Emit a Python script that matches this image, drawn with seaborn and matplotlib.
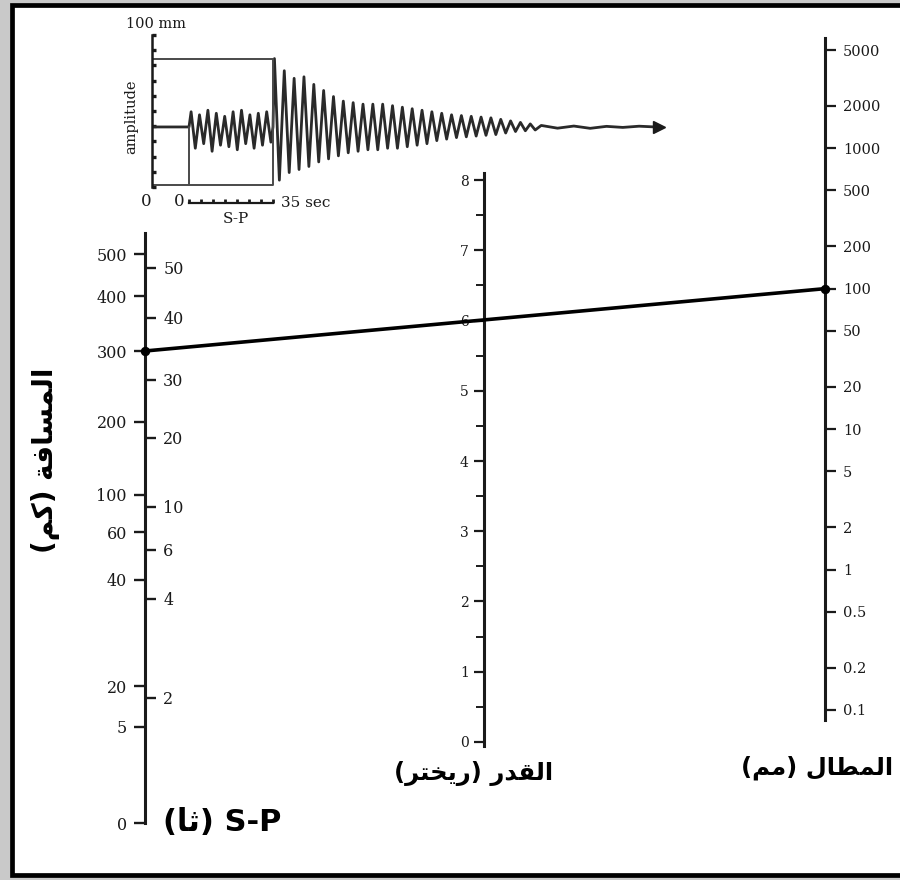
import numpy as np
import pandas as pd
import matplotlib
matplotlib.use("Agg")
import matplotlib.pyplot as plt
from matplotlib.patches import Rectangle
from matplotlib.ticker import FixedLocator, FixedFormatter, MultipleLocator, NullLocator
import seaborn as sns

# ---------------- data ----------------
# left nomogram scale: distance (km) and S-P time (s); positions = reading along the scale (0 bottom .. 1 top)
dist_labels = ["500", "400", "300", "200", "100", "60", "40", "20", "5", "0"]
dist_pos = [0.964, 0.893, 0.800, 0.680, 0.556, 0.493, 0.412, 0.232, 0.163, 0.0]
sp_labels = ["50", "40", "30", "20", "10", "6", "4", "2"]
sp_pos = [0.941, 0.856, 0.751, 0.653, 0.536, 0.463, 0.380, 0.212]
# middle scale: magnitude (Richter)
mag_ticks = [0, 1, 2, 3, 4, 5, 6, 7, 8]
# right scale: amplitude (mm), logarithmic
amp_ticks = [0.1, 0.2, 0.5, 1, 2, 5, 10, 20, 50, 100, 200, 500, 1000, 2000, 5000]
amp_labels = ["0.1", "0.2", "0.5", "1", "2", "5", "10", "20", "50", "100", "200", "500", "1000", "2000", "5000"]
# worked example line
example_distance = "300"
example_amplitude = 100

# seismogram inset (amplitude in mm, time in s)
baseline_mm = 39.5
sp_interval = 35
p_up = [10, 8, 11, 9, 7, 10, 11, 8, 9, 10]
p_down = [-14, -11, -16, -12, -13, -15, -11, -14, -12, -10]
s_up = [45, 37, 32, 33, 28, 24, 20, 17, 16, 15, 15, 15, 14, 13, 12, 11, 10, 9, 8, 7.5, 7, 6.5, 6, 5, 4, 3, 2]
s_down = [-35, -30, -28, -26, -23, -21, -19, -17, -16, -15, -15, -14, -14, -13, -12, -11, -9, -8, -7, -6.5,
          -6, -5.5, -5, -4, -3, -2.5, -2]
coda = [1.0, -0.8, 0.6, -0.9, 0.4, -0.3, 0.5, 0.0]

# ---------------- style ----------------
sns.set_theme(style="white")
plt.rcParams["font.family"] = ["DejaVu Sans"]
SERIF = "DejaVu Serif"
INK = "#1a1a1a"

W, H = 900, 880
fig = plt.figure(figsize=(9, 8.8), dpi=100)
fig.patch.set_facecolor("white")


def fx(px):
    return px / W


def fy(py):
    return 1 - py / H


# frame
fig.patches.append(Rectangle((0, 0), 1, 1, transform=fig.transFigure, facecolor="#c9c9c9",
                             edgecolor="none", zorder=-20))
fig.patches.append(Rectangle((fx(12), fy(875)), fx(930) - fx(12), fy(5) - fy(875), transform=fig.transFigure,
                             facecolor="white", edgecolor="black", lw=3.4, zorder=-19))


def scale_axes(rect):
    ax = fig.add_axes(rect)
    ax.set_facecolor("none")
    for s in ax.spines.values():
        s.set_visible(False)
    ax.set_xlim(0, 1)
    ax.xaxis.set_major_locator(NullLocator())
    ax.xaxis.set_minor_locator(NullLocator())
    return ax


def style_labels(ax, size):
    for t in ax.get_yticklabels():
        t.set_fontfamily(SERIF); t.set_fontsize(size); t.set_color(INK)


# ---- left scale: distance / S-P ----
axL = scale_axes([fx(145), fy(823), 0.0002, (823 - 233) / H])
axL.set_ylim(0, 1)
axL.spines["left"].set_visible(True)
axL.spines["left"].set_color(INK)
axL.spines["left"].set_linewidth(2.2)
axL.yaxis.set_major_locator(FixedLocator(dist_pos))
axL.yaxis.set_major_formatter(FixedFormatter(dist_labels))
axL.tick_params(axis="y", left=True, right=False, direction="out", length=8, width=1.7, color=INK, pad=5)
style_labels(axL, 11.5)

axS = axL.twinx()
axS.set_facecolor("none")
for s in axS.spines.values():
    s.set_visible(False)
axS.set_ylim(0, 1)
axS.yaxis.set_major_locator(FixedLocator(sp_pos))
axS.yaxis.set_major_formatter(FixedFormatter(sp_labels))
axS.tick_params(axis="y", left=False, right=True, labelright=True, direction="out", length=8, width=1.7,
                color=INK, pad=5)
style_labels(axS, 11.5)

# ---- middle scale: magnitude ----
axM = scale_axes([fx(484), fy(745.5), 0.0002, (745.5 - 173) / H])
axM.set_ylim(-0.05, 8.1)
axM.spines["left"].set_visible(True)
axM.spines["left"].set_color(INK)
axM.spines["left"].set_linewidth(2.2)
axM.yaxis.set_major_locator(FixedLocator(mag_ticks))
axM.yaxis.set_minor_locator(MultipleLocator(0.5))
axM.set_yticklabels([str(v) for v in mag_ticks])
axM.tick_params(axis="y", which="major", left=True, direction="out", length=7, width=1.6, color=INK, pad=4)
axM.tick_params(axis="y", which="minor", left=True, direction="out", length=5.5, width=1.4, color=INK)
style_labels(axM, 10)

# ---- right scale: amplitude (log) ----
axR = scale_axes([fx(825), fy(720), 0.0002, (720 - 38) / H])
axR.set_yscale("log")
axR.set_ylim(10 ** (-1 - 10 / 140), 10 ** (np.log10(5000) + 12 / 140))
axR.spines["left"].set_visible(True)
axR.spines["left"].set_color(INK)
axR.spines["left"].set_linewidth(2.2)
axR.yaxis.set_major_locator(FixedLocator(amp_ticks))
axR.yaxis.set_major_formatter(FixedFormatter(amp_labels))
axR.yaxis.set_minor_locator(NullLocator())
axR.tick_params(axis="y", left=False, right=True, labelleft=False, labelright=True, direction="out",
                length=8, width=1.6, color=INK, pad=5)
style_labels(axR, 10.5)

# ---- seismogram inset ----
px_per_s = (273 - 189) / sp_interval
t_left = -(189 - 152) / px_per_s
t_right = t_left + (717 - 152) / px_per_s
axI = fig.add_axes([fx(152), fy(187), fx(717) - fx(152), (187 - 35) / H])
axI.set_facecolor("none")
axI.set_xlim(t_left, t_right)
axI.set_ylim(0, 100)
for k, s in axI.spines.items():
    s.set_visible(k == "left")
axI.spines["left"].set_color(INK)
axI.spines["left"].set_linewidth(1.8)
axI.xaxis.set_major_locator(NullLocator())
axI.yaxis.set_major_locator(NullLocator())
axI.yaxis.set_minor_locator(MultipleLocator(10))
axI.tick_params(axis="y", which="minor", left=True, direction="in", length=3, width=2.4, color=INK)

# build waveform from the peaks
p_half = sp_interval / (2 * len(p_up))
p_vals = [v for pair in zip(p_up, p_down) for v in pair]
p_times = [(k + 0.5) * p_half for k in range(len(p_vals))]
s_half = 2.05
s_vals = [v for pair in zip(s_up, s_down) for v in pair]
s_times = [sp_interval + 0.6 + k * s_half for k in range(len(s_vals))]
c_start = s_times[-1] + 2.5
c_times = [c_start + k * 6.8 for k in range(len(coda))]
t_all = [t_left, 0] + p_times + [sp_interval] + s_times + c_times
a_all = [0, 0] + p_vals + [0] + s_vals + coda
wave = pd.DataFrame({"t": t_all, "amp": np.array(a_all) + baseline_mm})
sns.lineplot(data=wave, x="t", y="amp", ax=axI, sort=False, estimator=None, color="#2a2a2a", lw=2.0)
axI.plot([c_times[-1] + 1.5], [baseline_mm], marker=">", color="#1a1a1a", markersize=9, clip_on=False)
axI.set_xlabel(""); axI.set_ylabel("")

box_top = baseline_mm + max(s_up)
box_bot = 1.3
axI.plot([t_left, sp_interval, sp_interval, t_left], [box_top, box_top, box_bot, box_bot],
         color="#4a4a4a", lw=1.4)
axI.plot([0, 0], [box_bot, baseline_mm], color="#4a4a4a", lw=1.4)

# S-P mini axis
axSP = fig.add_axes([fx(189), fy(203), fx(273) - fx(189), 0.0002])
axSP.set_facecolor("none")
for k, s in axSP.spines.items():
    s.set_visible(k == "bottom")
axSP.spines["bottom"].set_color(INK)
axSP.spines["bottom"].set_linewidth(1.6)
axSP.set_xlim(0, sp_interval)
axSP.xaxis.set_major_locator(MultipleLocator(5))
axSP.yaxis.set_major_locator(NullLocator())
axSP.tick_params(axis="x", bottom=True, direction="in", length=3, width=2.0, labelbottom=False, color=INK)

inset_font = dict(family=SERIF, color=INK)
fig.text(fx(156), fy(24), "100 mm", ha="center", va="center", fontsize=10.5, **inset_font)
fig.text(fx(131), fy(117), "amplitude", ha="center", va="center", rotation=90, fontsize=10.5, **inset_font)
fig.text(fx(146), fy(201), "0", ha="center", va="center", fontsize=12, **inset_font)
fig.text(fx(179), fy(202), "0", ha="center", va="center", fontsize=12, **inset_font)
fig.text(fx(281), fy(203), "35 sec", ha="left", va="center", fontsize=11, **inset_font)
fig.text(fx(236), fy(219), "S-P", ha="center", va="center", fontsize=11, **inset_font)

# ---- worked example line across the three scales ----
ov = fig.add_axes([0, 0, 1, 1], zorder=10)
ov.set_facecolor("none")
ov.set_xlim(0, 1); ov.set_ylim(0, 1)
ov.axis("off")


def to_ov(ax, x, y):
    return ov.transData.inverted().transform(ax.transData.transform((x, y)))


pL = to_ov(axL, 0, dist_pos[dist_labels.index(example_distance)])
pR = to_ov(axR, 0, example_amplitude)
line_df = pd.DataFrame({"x": [pL[0], pR[0]], "y": [pL[1], pR[1]]})
sns.lineplot(data=line_df, x="x", y="y", ax=ov, color="black", lw=2.6, marker="o", markersize=6,
             markeredgecolor="black", sort=False, estimator=None)
ov.set_xlabel(""); ov.set_ylabel("")

# ---- Arabic labels (visual order, presentation forms) ----
lbl_font = dict(family=["DejaVu Sans"], weight="bold", color="black")
dist_title = "(\uFEE2\uFEDB) \uFE94\uFED3\uFE8E\uFEB4\uFEE4\uFEDF\uFE8D"      # المسافة (كم)
mag_title = "(\uFEAE\uFE98\uFEA8\uFEF3\uFEAD) \uFEAD\uFEAA\uFED8\uFEDF\uFE8D"  # القدر (ريختر)
amp_title = "(\uFEE2\uFEE3) \uFEDD\uFE8E\uFEC4\uFEE4\uFEDF\uFE8D"            # المطال (مم)
sp_title_ar = "(\uFE8E\uFE9B)"                                               # (ثا)
fig.text(fx(46), fy(460), dist_title, rotation=90, ha="center", va="center", fontsize=20, **lbl_font)
fig.text(fx(474), fy(773), mag_title, ha="center", va="center", fontsize=17.5, **lbl_font)
fig.text(fx(817), fy(768), amp_title, ha="center", va="center", fontsize=17.5, **lbl_font)
fig.text(fx(163), fy(822), sp_title_ar + " S-P", ha="left", va="center", fontsize=22, **lbl_font)

fig.savefig("out.png", dpi=100, facecolor=fig.get_facecolor())
